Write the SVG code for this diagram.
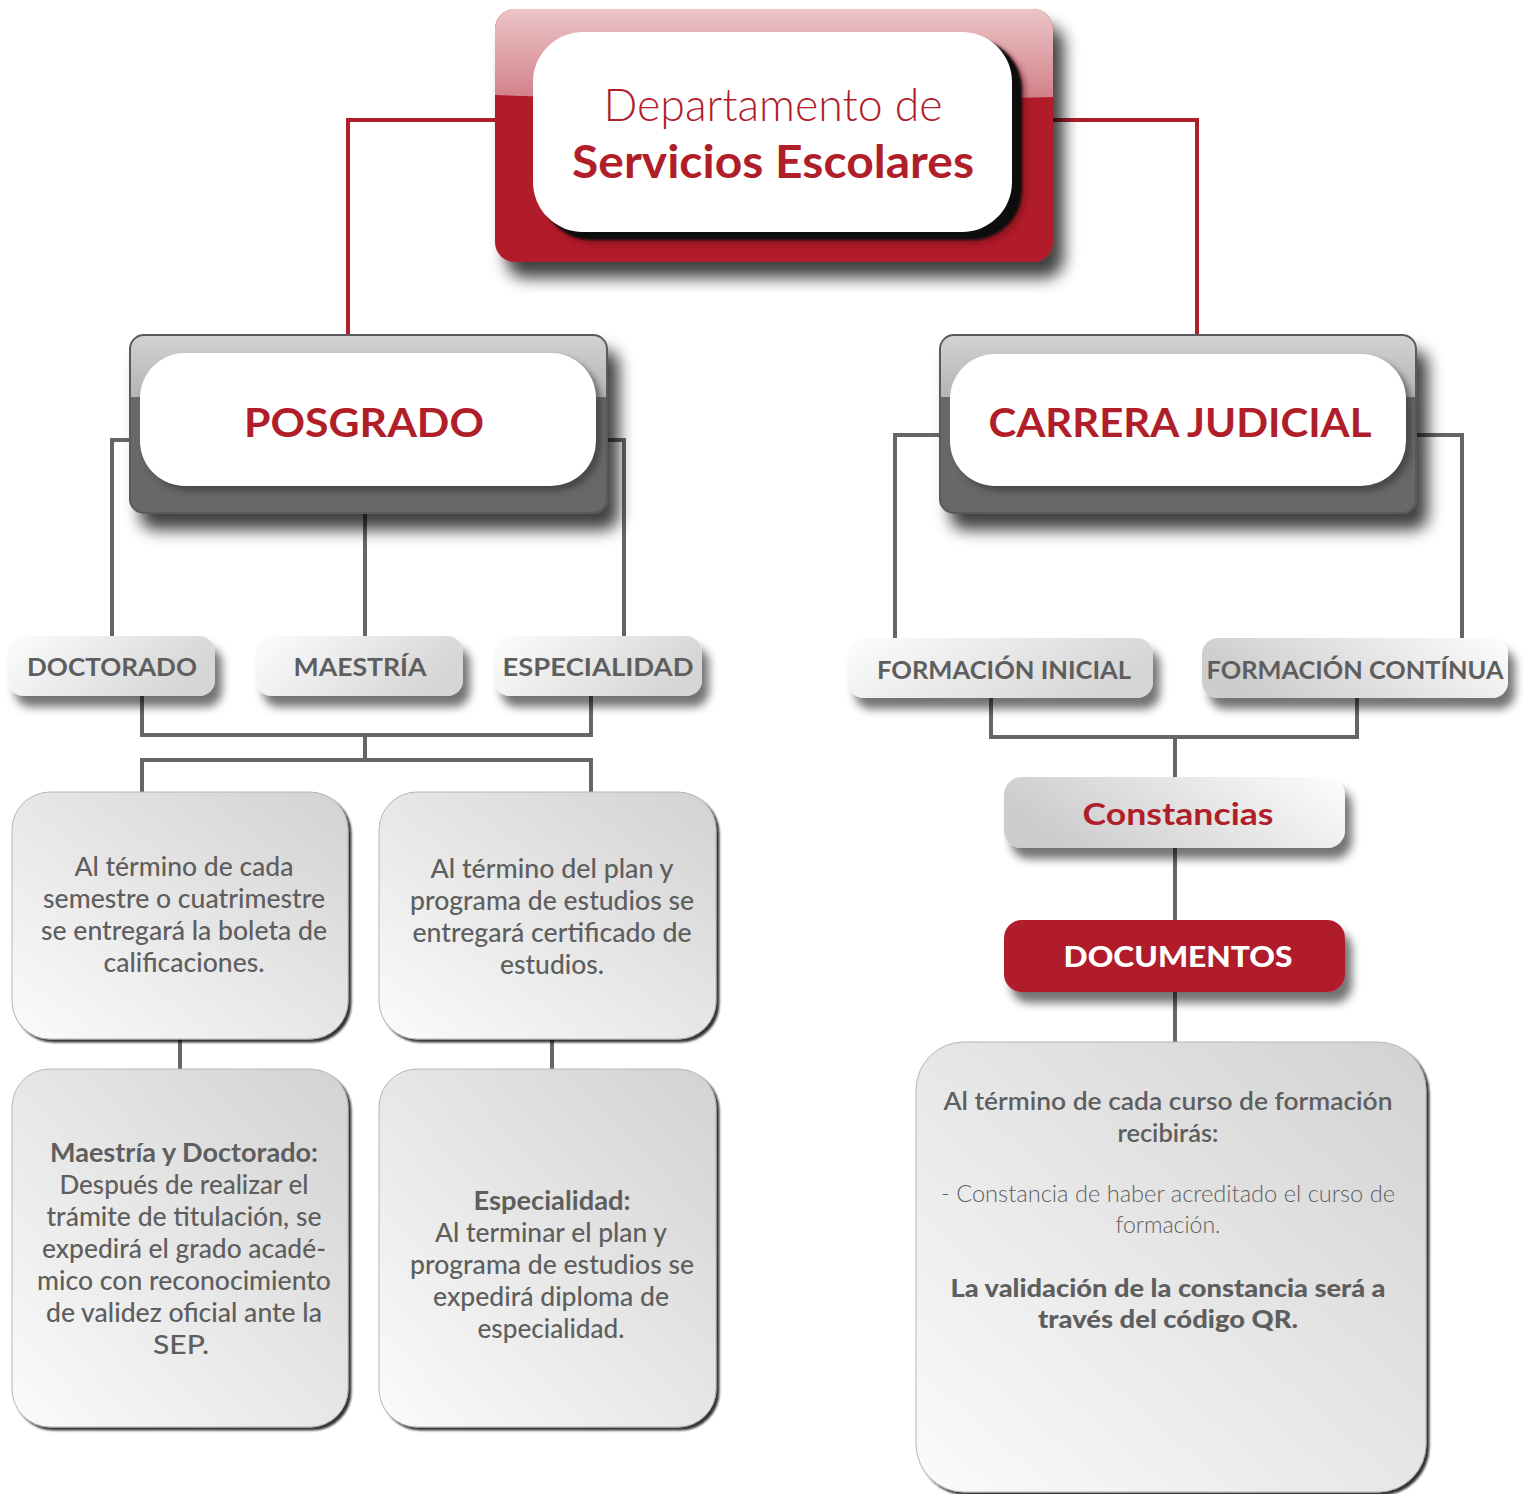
<svg xmlns="http://www.w3.org/2000/svg" width="1524" height="1494" viewBox="0 0 1524 1494">
<style>
.t{font-family:Lato,"Liberation Sans","DejaVu Sans",sans-serif;text-anchor:middle}
.red{fill:#B01E2A}
.gry{fill:#5e5e5e}
.body{font-size:26px;font-weight:500}
.bb{font-weight:700}
.lbl{font-size:25px;font-weight:700}
.rl{fill:none;stroke:#B01E2A;stroke-width:4}
.gl{fill:none;stroke:#666;stroke-width:4}
.tbox{fill:url(#gBox);stroke:#b5b5b5;stroke-width:1}
</style>
<defs>
<linearGradient id="gBox" x1="0" y1="1" x2="1" y2="0">
<stop offset="0" stop-color="#fbfbfb"/><stop offset="1" stop-color="#d2d2d2"/>
</linearGradient>
<linearGradient id="gLblL" x1="0" y1="0" x2="1" y2="0.3">
<stop offset="0" stop-color="#fdfdfd"/><stop offset="1" stop-color="#d6d6d6"/>
</linearGradient>
<linearGradient id="gLblR" x1="0" y1="0.3" x2="1" y2="0">
<stop offset="0" stop-color="#cdcdcd"/><stop offset="1" stop-color="#fdfdfd"/>
</linearGradient>
<linearGradient id="gGloss" x1="0" y1="0" x2="0" y2="1">
<stop offset="0" stop-color="#ecc5c8"/><stop offset="1" stop-color="#d07f86"/>
</linearGradient>
<linearGradient id="gGrayTop" x1="0" y1="0" x2="0" y2="1">
<stop offset="0" stop-color="#d2d2d2"/><stop offset="1" stop-color="#b4b4b4"/>
</linearGradient>
<filter id="fBig" x="-10%" y="-10%" width="130%" height="140%">
<feGaussianBlur in="SourceAlpha" stdDeviation="8"/>
<feOffset dx="11" dy="16"/>
<feComponentTransfer><feFuncA type="linear" slope="0.75"/></feComponentTransfer>
<feMerge><feMergeNode/><feMergeNode in="SourceGraphic"/></feMerge>
</filter>
<filter id="fLbl" x="-15%" y="-20%" width="140%" height="170%">
<feGaussianBlur in="SourceAlpha" stdDeviation="5"/>
<feOffset dx="7" dy="11"/>
<feComponentTransfer><feFuncA type="linear" slope="0.55"/></feComponentTransfer>
<feMerge><feMergeNode/><feMergeNode in="SourceGraphic"/></feMerge>
</filter>
<filter id="fBox" x="-5%" y="-5%" width="115%" height="115%">
<feGaussianBlur in="SourceAlpha" stdDeviation="1.3"/>
<feOffset dx="3" dy="3"/>
<feComponentTransfer><feFuncA type="linear" slope="0.8"/></feComponentTransfer>
<feMerge><feMergeNode/><feMergeNode in="SourceGraphic"/></feMerge>
</filter>
<filter id="fSoft" x="-10%" y="-10%" width="130%" height="140%">
<feGaussianBlur stdDeviation="3"/>
</filter>
<filter id="fHard" x="-10%" y="-10%" width="130%" height="140%">
<feGaussianBlur stdDeviation="1"/>
</filter>
</defs>

<g id="connectors">
<polyline class="rl" points="497,120 348,120 348,336"/>
<polyline class="rl" points="1050,120 1197,120 1197,336"/>
<polyline class="gl" points="132,440 112,440 112,636"/>
<polyline class="gl" points="365,512 365,636"/>
<polyline class="gl" points="605,440 624,440 624,636"/>
<polyline class="gl" points="142,694 142,735 591,735 591,694"/>
<polyline class="gl" points="365,735 365,760"/>
<polyline class="gl" points="142,793 142,760 591,760 591,793"/>
<polyline class="gl" points="180,1038 180,1070"/>
<polyline class="gl" points="552,1038 552,1070"/>
<polyline class="gl" points="941,435 895,435 895,638"/>
<polyline class="gl" points="1414,435 1462,435 1462,638"/>
<polyline class="gl" points="991,696 991,737 1357,737 1357,696"/>
<polyline class="gl" points="1175,737 1175,777"/>
<polyline class="gl" points="1175,848 1175,920"/>
<polyline class="gl" points="1175,992 1175,1043"/>
</g>

<g id="node-departamento">
<rect x="495" y="9" width="558" height="253" rx="20" fill="#B01E2A" filter="url(#fBig)"/>
<path d="M495,29 a20,20 0 0 1 20,-20 h518 a20,20 0 0 1 20,20 v68 Q774,106 495,95 z" fill="url(#gGloss)"/>
<rect x="545" y="42" width="480" height="201" rx="50" fill="#6a1016" opacity="0.6" filter="url(#fSoft)"/>
<rect x="541" y="39" width="481" height="201" rx="50" fill="#111" filter="url(#fHard)"/>
<rect x="533" y="32" width="479" height="200" rx="50" fill="#fff"/>
<text class="t red" x="773" y="121" font-size="45" font-weight="300" textLength="339" lengthAdjust="spacingAndGlyphs">Departamento de</text>
<text class="t red" x="773" y="178" font-size="46" font-weight="700" textLength="402" lengthAdjust="spacingAndGlyphs">Servicios Escolares</text>
</g>

<g id="node-posgrado">
<rect x="130" y="335" width="477" height="178" rx="14" fill="#676767" stroke="#5a5a5a" stroke-width="2" filter="url(#fBig)"/>
<path d="M131,349 a13,13 0 0 1 13,-13 h449 a13,13 0 0 1 13,13 v48 h-475 z" fill="url(#gGrayTop)"/>
<rect x="145" y="358" width="456" height="133" rx="45" fill="#333" opacity="0.6" filter="url(#fSoft)"/>
<rect x="140" y="353" width="456" height="133" rx="45" fill="#fff"/>
<text class="t red" x="364" y="437" font-size="41" font-weight="700" textLength="240" lengthAdjust="spacingAndGlyphs">POSGRADO</text>
</g>

<g id="node-carrera">
<rect x="940" y="335" width="476" height="178" rx="14" fill="#676767" stroke="#5a5a5a" stroke-width="2" filter="url(#fBig)"/>
<path d="M941,349 a13,13 0 0 1 13,-13 h448 a13,13 0 0 1 13,13 v48 h-474 z" fill="url(#gGrayTop)"/>
<rect x="955" y="359" width="456" height="132" rx="45" fill="#333" opacity="0.6" filter="url(#fSoft)"/>
<rect x="950" y="354" width="456" height="132" rx="45" fill="#fff"/>
<text class="t red" x="1180" y="437" font-size="41" font-weight="700" textLength="383" lengthAdjust="spacingAndGlyphs">CARRERA JUDICIAL</text>
</g>

<g id="node-doctorado">
<rect x="8" y="636" width="207" height="60" rx="16" fill="url(#gLblL)" filter="url(#fLbl)"/>
<text class="t gry lbl" x="112" y="676" textLength="170" lengthAdjust="spacingAndGlyphs">DOCTORADO</text>
</g>
<g id="node-maestria">
<rect x="256" y="636" width="207" height="60" rx="16" fill="url(#gLblL)" filter="url(#fLbl)"/>
<text class="t gry lbl" x="360" y="676" textLength="133" lengthAdjust="spacingAndGlyphs">MAESTRÍA</text>
</g>
<g id="node-especialidad">
<rect x="494" y="636" width="208" height="60" rx="16" fill="url(#gLblL)" filter="url(#fLbl)"/>
<text class="t gry lbl" x="598" y="676" textLength="191" lengthAdjust="spacingAndGlyphs">ESPECIALIDAD</text>
</g>

<g id="node-boleta">
<rect class="tbox" x="12" y="792" width="336" height="247" rx="38" filter="url(#fBox)"/>
<text class="t gry body" x="184" y="876" textLength="219" lengthAdjust="spacingAndGlyphs">Al término de cada</text>
<text class="t gry body" x="184" y="908" textLength="282" lengthAdjust="spacingAndGlyphs">semestre o cuatrimestre</text>
<text class="t gry body" x="184" y="940" textLength="286" lengthAdjust="spacingAndGlyphs">se entregará la boleta de</text>
<text class="t gry body" x="184" y="972" textLength="161" lengthAdjust="spacingAndGlyphs">calificaciones.</text>
</g>

<g id="node-certificado">
<rect class="tbox" x="379" y="792" width="337" height="247" rx="38" filter="url(#fBox)"/>
<text class="t gry body" x="552" y="878" textLength="243" lengthAdjust="spacingAndGlyphs">Al término del plan y</text>
<text class="t gry body" x="552" y="910" textLength="284" lengthAdjust="spacingAndGlyphs">programa de estudios se</text>
<text class="t gry body" x="552" y="942" textLength="279" lengthAdjust="spacingAndGlyphs">entregará certificado de</text>
<text class="t gry body" x="552" y="974" textLength="104" lengthAdjust="spacingAndGlyphs">estudios.</text>
</g>

<g id="node-grado">
<rect class="tbox" x="12" y="1069" width="336" height="358" rx="38" filter="url(#fBox)"/>
<text class="t gry body bb" x="184" y="1162" textLength="268" lengthAdjust="spacingAndGlyphs">Maestría y Doctorado:</text>
<text class="t gry body" x="184" y="1194" textLength="249" lengthAdjust="spacingAndGlyphs">Después de realizar el</text>
<text class="t gry body" x="184" y="1226" textLength="275" lengthAdjust="spacingAndGlyphs">trámite de titulación, se</text>
<text class="t gry body" x="184" y="1258" textLength="284" lengthAdjust="spacingAndGlyphs">expedirá el grado acadé-</text>
<text class="t gry body" x="184" y="1290" textLength="294" lengthAdjust="spacingAndGlyphs">mico con reconocimiento</text>
<text class="t gry body" x="184" y="1322" textLength="276" lengthAdjust="spacingAndGlyphs">de validez oficial ante la</text>
<text class="t gry body" x="181" y="1354" textLength="56" lengthAdjust="spacingAndGlyphs">SEP.</text>
</g>

<g id="node-diploma">
<rect class="tbox" x="379" y="1069" width="337" height="358" rx="38" filter="url(#fBox)"/>
<text class="t gry body bb" x="552" y="1210" textLength="157" lengthAdjust="spacingAndGlyphs">Especialidad:</text>
<text class="t gry body" x="551" y="1242" textLength="232" lengthAdjust="spacingAndGlyphs">Al terminar el plan y</text>
<text class="t gry body" x="552" y="1274" textLength="284" lengthAdjust="spacingAndGlyphs">programa de estudios se</text>
<text class="t gry body" x="551" y="1306" textLength="236" lengthAdjust="spacingAndGlyphs">expedirá diploma de</text>
<text class="t gry body" x="551" y="1338" textLength="147" lengthAdjust="spacingAndGlyphs">especialidad.</text>
</g>

<g id="node-formacion-inicial">
<rect x="848" y="638" width="305" height="60" rx="16" fill="url(#gLblL)" filter="url(#fLbl)"/>
<text class="t gry lbl" x="1004" y="679" textLength="254" lengthAdjust="spacingAndGlyphs">FORMACIÓN INICIAL</text>
</g>
<g id="node-formacion-continua">
<rect x="1202" y="638" width="306" height="60" rx="16" fill="url(#gLblR)" filter="url(#fLbl)"/>
<text class="t gry lbl" x="1355" y="679" textLength="297" lengthAdjust="spacingAndGlyphs">FORMACIÓN CONTÍNUA</text>
</g>

<g id="node-constancias">
<rect x="1004" y="777" width="341" height="71" rx="18" fill="url(#gLblR)" filter="url(#fLbl)"/>
<text class="t red" x="1178" y="825" font-size="31" font-weight="700" textLength="191" lengthAdjust="spacingAndGlyphs">Constancias</text>
</g>

<g id="node-documentos">
<rect x="1004" y="920" width="341" height="72" rx="18" fill="#B01E2A" filter="url(#fLbl)"/>
<text class="t" x="1178" y="967" font-size="29" font-weight="900" fill="#fff" textLength="229" lengthAdjust="spacingAndGlyphs">DOCUMENTOS</text>
</g>

<g id="node-info-constancia">
<rect class="tbox" x="916" y="1042" width="510" height="450" rx="48" filter="url(#fBox)"/>
<text class="t gry" x="1168" y="1110" font-size="25" font-weight="600" textLength="449" lengthAdjust="spacingAndGlyphs">Al término de cada curso de formación</text>
<text class="t gry" x="1168" y="1142" font-size="25" font-weight="600" textLength="101" lengthAdjust="spacingAndGlyphs">recibirás:</text>
<text class="t gry" x="1168" y="1202" font-size="24" font-weight="300" textLength="454" lengthAdjust="spacingAndGlyphs">- Constancia de haber acreditado el curso de</text>
<text class="t gry" x="1168" y="1233" font-size="24" font-weight="300" textLength="105" lengthAdjust="spacingAndGlyphs">formación.</text>
<text class="t gry" x="1168" y="1297" font-size="25" font-weight="900" textLength="435" lengthAdjust="spacingAndGlyphs">La validación de la constancia será a</text>
<text class="t gry" x="1168" y="1328" font-size="25" font-weight="900" textLength="260" lengthAdjust="spacingAndGlyphs">través del código QR.</text>
</g>
</svg>
